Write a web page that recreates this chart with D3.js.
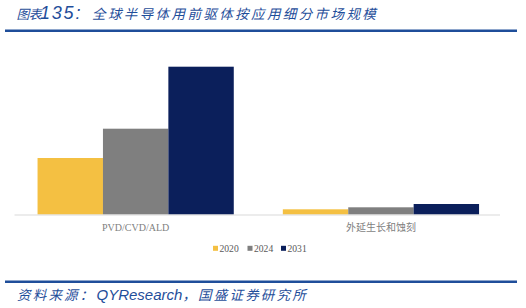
<!DOCTYPE html>
<html>
<head>
<meta charset="utf-8">
<script src="https://cdn.jsdelivr.net/npm/d3@7"></script>
<style>
  body { margin: 0; background: #fff; }
  svg { display: block; }
</style>
</head>
<body>
<div id="chart"></div>
<script>
// data (units ~ relative market size)
const categories = ["PVD/CVD/ALD", "外延生长和蚀刻"];
const years = ["2020", "2024", "2031"];
const values2020 = [56.5, 5.2];
const values2024 = [85.8, 7.2];
const values2031 = [147.8, 10.5];
const colors = ["#F4C042", "#7F7F7F", "#0B1F5B"];

const svgWidth = 526;
const svgHeight = 308;
const blue = "#1F4E9A";

const svg = d3.select("#chart")
    .append("svg")
    .attr("width", svgWidth)
    .attr("height", svgHeight);

// title
const title = svg.append("text")
    .attr("y", 18.5)
    .attr("fill", blue)
    .style("font-style", "italic");
title.append("tspan")
    .attr("x", 16.5)
    .style("font-family", "'Noto Sans CJK SC'")
    .style("font-size", "12.8px")
    .style("letter-spacing", "-0.6px")
    .text("图表");
title.append("tspan")
    .attr("x", 40)
    .style("font-family", "'Liberation Sans'")
    .style("font-size", "18px")
    .style("letter-spacing", "1.8px")
    .text("135:");
title.append("tspan")
    .attr("x", 92)
    .style("font-family", "'Noto Sans CJK SC'")
    .style("font-size", "13.5px")
    .style("letter-spacing", "2.4px")
    .text("全球半导体用前驱体按应用细分市场规模");

svg.append("line")
    .attr("x1", 5).attr("x2", 517)
    .attr("y1", 30.7).attr("y2", 30.7)
    .attr("stroke", blue)
    .attr("stroke-width", 2.5);

// bars
const rows = categories.map((c, i) => ({
  category: c,
  values: [values2020[i], values2024[i], values2031[i]]
}));

const baseY = 214.5;
const xScale = d3.scaleBand()
    .domain(categories)
    .range([14, 502.6])
    .paddingInner(0.2)
    .paddingOuter(0.096);

const xSub = d3.scaleBand()
    .domain(years)
    .range([0, xScale.bandwidth()]);

const yScale = d3.scaleLinear()
    .domain([0, 150])
    .range([baseY, baseY - 150]);

const groups = svg.selectAll(".group")
    .data(rows)
    .enter()
    .append("g")
    .attr("class", "group")
    .attr("transform", d => "translate(" + xScale(d.category) + ",0)");

groups.selectAll("rect")
    .data(d => d.values.map((v, j) => ({ year: years[j], value: v, color: colors[j] })))
    .enter()
    .append("rect")
    .attr("x", d => xSub(d.year))
    .attr("y", d => yScale(d.value))
    .attr("width", xSub.bandwidth())
    .attr("height", d => baseY - yScale(d.value))
    .attr("fill", d => d.color);

// x axis
const xAxis = svg.append("g")
    .attr("transform", "translate(0," + baseY + ")")
    .call(d3.axisBottom(xScale).tickSize(0).tickPadding(9));
xAxis.select(".domain")
    .attr("stroke", "#D9D9D9")
    .attr("d", "M0.5,0.5H" + (500 - 14));
xAxis.select(".domain").attr("transform", "translate(14,0)");
xAxis.selectAll("text")
    .attr("fill", "#7F7F7F")
    .style("font-size", "10px")
    .style("font-family", d => /[A-Z]/.test(d) ? "'Liberation Serif'" : "'Noto Sans CJK SC'");

// legend
const legendX = [213, 247.5, 281];
const legend = svg.append("g")
    .selectAll("g")
    .data(years)
    .enter()
    .append("g")
    .attr("transform", (d, i) => "translate(" + legendX[i] + ",248.3)");
legend.append("rect")
    .attr("x", 0).attr("y", -2.5)
    .attr("width", 5).attr("height", 5)
    .attr("fill", (d, i) => colors[i]);
legend.append("text")
    .attr("x", 6.5)
    .attr("y", 3.3)
    .attr("fill", "#595959")
    .style("font-family", "'Liberation Serif'")
    .style("font-size", "9.6px")
    .text(d => d);

// source
svg.append("line")
    .attr("x1", 5).attr("x2", 517)
    .attr("y1", 281.7).attr("y2", 281.7)
    .attr("stroke", blue)
    .attr("stroke-width", 2.5);

const source = svg.append("text")
    .attr("y", 299.5)
    .attr("fill", blue)
    .style("font-style", "italic");
source.append("tspan")
    .attr("x", 17)
    .style("font-family", "'Noto Sans CJK SC'")
    .style("font-size", "13.5px")
    .style("letter-spacing", "2.2px")
    .text("资料来源：");
source.append("tspan")
    .attr("x", 96.5)
    .style("font-family", "'Liberation Sans'")
    .style("font-size", "15px")
    .style("letter-spacing", "0px")
    .text("QYResearch");
source.append("tspan")
    .style("font-family", "'Noto Sans CJK SC'")
    .style("font-size", "13.5px")
    .style("letter-spacing", "2.2px")
    .text("，国盛证券研究所");
</script>
</body>
</html>
